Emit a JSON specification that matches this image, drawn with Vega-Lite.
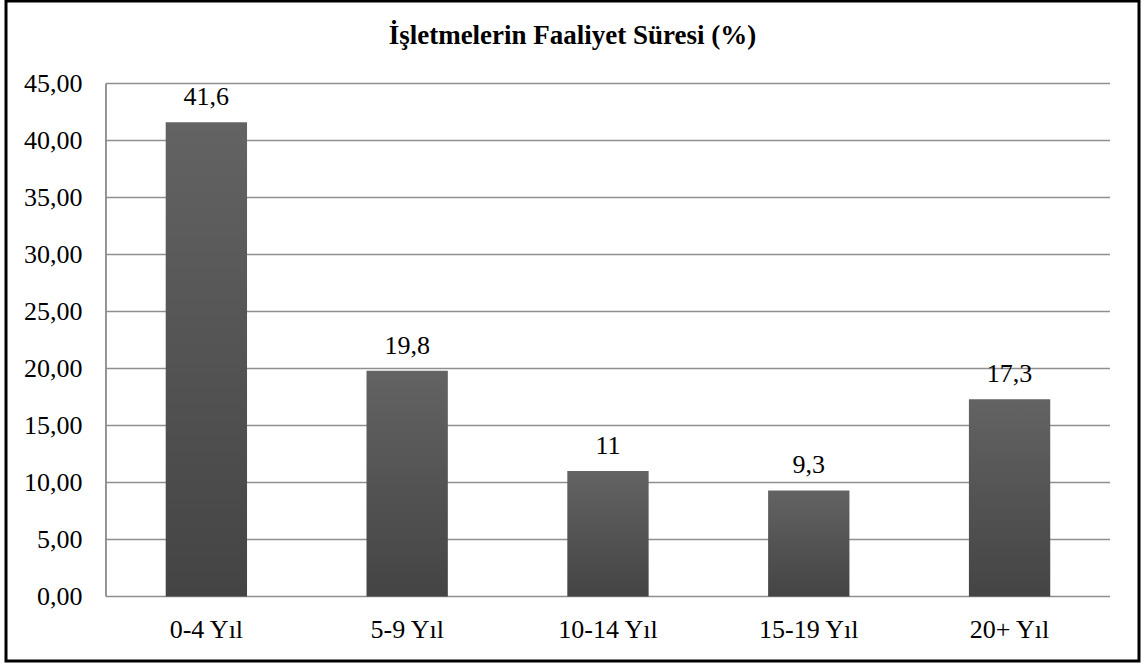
{
  "$schema": "https://vega.github.io/schema/vega-lite/v6.json",
  "autosize": "none",
  "padding": {"left": 6, "top": 1, "right": 5, "bottom": 3},
  "width": 1133,
  "height": 660,
  "background": "white",
  "config": {
    "locale": {"number": {"decimal": ",", "thousands": ".", "grouping": [3], "currency": ["", " TL"]}},
    "view": {"stroke": "black", "strokeWidth": 3},
    "font": "Liberation Serif"
  },
  "title": {
    "text": "İşletmelerin Faaliyet Süresi (%)",
    "font": "Liberation Serif",
    "fontSize": 27,
    "fontWeight": "bold",
    "color": "black",
    "anchor": "middle",
    "frame": "group",
    "orient": "top",
    "baseline": "alphabetic",
    "offset": -42,
    "dy": 28
  },
  "datasets": {
    "bars": [
      {"cat": "0-4 Yıl", "value": 41.6},
      {"cat": "5-9 Yıl", "value": 19.8},
      {"cat": "10-14 Yıl", "value": 11},
      {"cat": "15-19 Yıl", "value": 9.3},
      {"cat": "20+ Yıl", "value": 17.3}
    ],
    "grid": [
      {"v": 0}, {"v": 5}, {"v": 10}, {"v": 15}, {"v": 20},
      {"v": 25}, {"v": 30}, {"v": 35}, {"v": 40}, {"v": 45}
    ],
    "one": [{"k": 1}]
  },
  "layer": [
    {
      "data": {"name": "grid"},
      "mark": {"type": "rule", "color": "#8f8f8f", "strokeWidth": 1.6},
      "encoding": {
        "y": {"field": "v", "type": "quantitative", "title": null},
        "x": {"datum": "0-4 Yıl", "type": "nominal", "bandPosition": 0},
        "x2": {"datum": "20+ Yıl", "bandPosition": 1}
      }
    },
    {
      "data": {"name": "one"},
      "mark": {"type": "rule", "color": "#8a8a8a", "strokeWidth": 1.8},
      "encoding": {
        "x": {"datum": "0-4 Yıl", "type": "nominal", "bandPosition": 0},
        "y": {"datum": 0, "type": "quantitative"},
        "y2": {"datum": 45}
      }
    },
    {
      "data": {"name": "bars"},
      "mark": {
        "type": "bar",
        "width": {"band": 0.405},
        "color": {
          "gradient": "linear",
          "x1": 0, "y1": 0, "x2": 0, "y2": 1,
          "stops": [
            {"offset": 0, "color": "#636363"},
            {"offset": 1, "color": "#444444"}
          ]
        }
      },
      "encoding": {
        "x": {
          "field": "cat",
          "type": "nominal",
          "sort": null,
          "title": null,
          "scale": {
            "domain": ["0-4 Yıl", "5-9 Yıl", "10-14 Yıl", "15-19 Yıl", "20+ Yıl"],
            "paddingInner": 0, "paddingOuter": 0.3212, "align": 0.775
          },
          "axis": {
            "title": null,
            "domain": false,
            "ticks": false,
            "grid": false,
            "labelAngle": 0,
            "labelAlign": "center",
            "bandPosition": 0.5,
            "offset": -64.5,
            "labelBaseline": "alphabetic",
            "labelPadding": 40.5,
            "labelFont": "Liberation Serif",
            "labelFontSize": 26,
            "labelColor": "black"
          }
        },
        "y": {
          "field": "value",
          "type": "quantitative",
          "title": null,
          "scale": {"domain": [-5.658, 52.237], "nice": false, "zero": false},
          "axis": {
            "title": null,
            "values": [0, 5, 10, 15, 20, 25, 30, 35, 40, 45],
            "format": ".2f",
            "domain": false,
            "ticks": false,
            "grid": false,
            "offset": -100,
            "labelPadding": 24,
            "labelFont": "Liberation Serif",
            "labelFontSize": 26,
            "labelColor": "black"
          }
        },
        "y2": {"datum": 0}
      }
    },
    {
      "data": {"name": "bars"},
      "mark": {
        "type": "text",
        "baseline": "alphabetic",
        "dy": -17,
        "font": "Liberation Serif",
        "fontSize": 26,
        "color": "black"
      },
      "encoding": {
        "x": {"field": "cat", "type": "nominal", "sort": null, "title": null},
        "y": {"field": "value", "type": "quantitative", "title": null},
        "text": {"field": "value", "type": "quantitative", "format": "~f"}
      }
    }
  ]
}
